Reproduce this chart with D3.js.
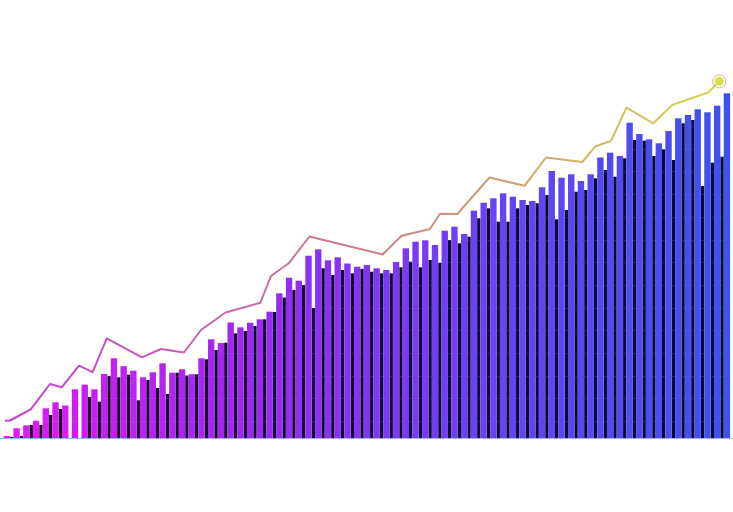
<!DOCTYPE html>
<html>
<head>
<meta charset="utf-8">
<script src="https://cdn.jsdelivr.net/npm/d3@7"></script>
<style>
  html, body { margin: 0; padding: 0; background: #ffffff; }
  svg { display: block; }
</style>
</head>
<body>
<svg id="chart" width="733" height="512"></svg>
<script>
// ---- data ----
const barValues = [2, 9.7, 12.7, 17.3, 29.7, 35.7, 32.5, 48.7, 53.3, 48.7,
  64, 79.7, 71.8, 67.3, 60.7, 65.7, 74.7, 65.3, 68.7, 63.8,
  79.7, 98.7, 95, 115.5, 110.7, 115.3, 118.7, 126.3, 144.7, 160.3,
  157.3, 182.3, 188.7, 177.7, 180.7, 174.5, 171.3, 173, 169.7, 168,
  176, 189.7, 196.3, 197.7, 193, 207.3, 211.3, 204, 227.3, 235.3,
  239.7, 244.7, 241.3, 238, 237, 250.7, 267, 260.3, 263.7, 257,
  263.7, 280.5, 285.3, 282, 315.3, 304, 298.7, 294.7, 307, 319.7,
  323, 328.7, 325.7, 332.3, 344.7];

const shadowValues = [1, 2, 13, 13, 23, 29, 0, 0, 41, 36.3,
  62, 60.7, 63.3, 37.7, 58, 50, 44, 65.3, 62.5, 63.7,
  78.7, 88, 95.3, 104.7, 107, 112, 118.7, 126, 140.5, 148,
  153, 130, 169.7, 163, 168, 164.7, 169, 166.3, 164.7, 164.7,
  170.7, 176.3, 170.7, 178, 175.3, 198, 194.7, 201.3, 219.7, 229.7,
  216.3, 216.3, 229.7, 233, 234.7, 243, 218.7, 228, 246.3, 248,
  259.7, 268, 261.3, 279.7, 298, 297.3, 282, 288.7, 278, 314.7,
  318, 252, 275.3, 281.3, 0];

const categories = barValues.map((_, i) => i);

// line series: position on the category axis (fractional index) and value
const linePos = [-0.2, 0.32, 2.45, 4.43, 5.63, 7.41, 8.82, 10.26, 13.88, 15.84,
  18.2, 19.95, 22.47, 26.05, 27.14, 28.97, 31.09, 38.62, 40.57, 43.48,
  44.51, 46.29, 49.6, 53.2, 55.4, 59.14, 60.48, 62.08, 63.68, 66.43,
  68.42, 72.08, 73.21];
const lineValues = [17.3, 17.5, 28.7, 54, 50.7, 72.3, 65.8, 99.7, 80.7, 89,
  85.5, 108, 125.5, 135.3, 162, 174.7, 201.5, 183.5, 202.3, 209,
  224.3, 224, 260.5, 252.2, 280.5, 276, 291.7, 297, 330.3, 314.7,
  333.3, 345.5, 356.7];

const gridValues = [17, 40, 62, 85, 108, 130, 153, 176, 198, 221, 244, 267, 289, 312, 335];

// ---- drawing ----
const W = 733, H = 512;
const svg = d3.select("#chart");
const step = 9.73;
const x0 = 3.7;

const x = d3.scaleBand().domain(categories)
  .range([x0, x0 + step * categories.length])
  .paddingInner(0).paddingOuter(0);
const y = d3.scaleLinear().domain([0, 438]).range([438, 0]);

const barW = x.bandwidth() * 0.655;
const shadowW = x.bandwidth() - barW;

// line x position on the same category axis (bar centres)
const xl = d3.scaleLinear().domain([0, categories.length - 1])
  .range([x(0) + barW / 2, x(categories.length - 1) + barW / 2]);

const defs = svg.append("defs");
const barGrad = defs.append("linearGradient").attr("id", "barGrad")
  .attr("gradientUnits", "userSpaceOnUse")
  .attr("x1", 0).attr("x2", W).attr("y1", 0).attr("y2", 0);
[[0, "#e31af3"], [0.33, "#9c28f2"], [0.66, "#6a42f5"], [1, "#3c52ee"]]
  .forEach(([o, c]) => barGrad.append("stop").attr("offset", o).attr("stop-color", c));

const shGrad = defs.append("linearGradient").attr("id", "shGrad")
  .attr("gradientUnits", "userSpaceOnUse")
  .attr("x1", 0).attr("x2", W).attr("y1", 0).attr("y2", 0);
[[0, "#1e0424"], [0.5, "#12082c"], [1, "#080b32"]]
  .forEach(([o, c]) => shGrad.append("stop").attr("offset", o).attr("stop-color", c));

const lineGrad = defs.append("linearGradient").attr("id", "lineGrad")
  .attr("gradientUnits", "userSpaceOnUse")
  .attr("x1", 0).attr("x2", W).attr("y1", 0).attr("y2", 0);
[[0, "#c23fd6"], [0.27, "#c862b2"], [0.5, "#cc7f8c"], [0.73, "#d0a86a"], [1, "#d4dc4c"]]
  .forEach(([o, c]) => lineGrad.append("stop").attr("offset", o).attr("stop-color", c));

svg.append("rect").attr("width", W).attr("height", H).attr("fill", "#ffffff");

// shadow (dark) bars
svg.append("g").selectAll("rect").data(shadowValues).join("rect")
  .attr("x", (d, i) => x(categories[i]) + barW)
  .attr("y", d => y(d))
  .attr("width", shadowW)
  .attr("height", d => y(0) - y(d))
  .attr("fill", "url(#shGrad)");

// coloured bars
svg.append("g").selectAll("rect").data(barValues).join("rect")
  .attr("x", (d, i) => x(categories[i]))
  .attr("y", d => y(d))
  .attr("width", barW)
  .attr("height", d => y(0) - y(d))
  .attr("fill", "url(#barGrad)");

// faint grid lines, only visible over the dark bars
svg.append("g").style("mix-blend-mode", "lighten")
  .selectAll("line").data(gridValues).join("line")
  .attr("x1", 0).attr("x2", W)
  .attr("y1", d => y(d) + 0.5).attr("y2", d => y(d) + 0.5)
  .attr("stroke", "#22306e").attr("stroke-width", 1).attr("opacity", 0.8);

// baseline
svg.append("line").attr("x1", 0).attr("x2", W)
  .attr("y1", y(0) + 0.5).attr("y2", y(0) + 0.5)
  .attr("stroke", "#a4b2f0").attr("stroke-width", 1);

// line series
const lineData = linePos.map((p, i) => [p, lineValues[i]]);
svg.append("path").datum(lineData)
  .attr("fill", "none")
  .attr("stroke", "url(#lineGrad)")
  .attr("stroke-width", 2)
  .attr("stroke-linejoin", "round")
  .attr("d", d3.line().x(d => xl(d[0])).y(d => y(d[1])));

// end marker
const last = lineData[lineData.length - 1];
svg.append("circle").attr("cx", xl(last[0])).attr("cy", y(last[1])).attr("r", 6.5)
  .attr("fill", "none").attr("stroke", "#c9a08c").attr("stroke-width", 1).attr("opacity", 0.8);
svg.append("circle").attr("cx", xl(last[0])).attr("cy", y(last[1])).attr("r", 4.5)
  .attr("fill", "#d6e040");
</script>
</body>
</html>
